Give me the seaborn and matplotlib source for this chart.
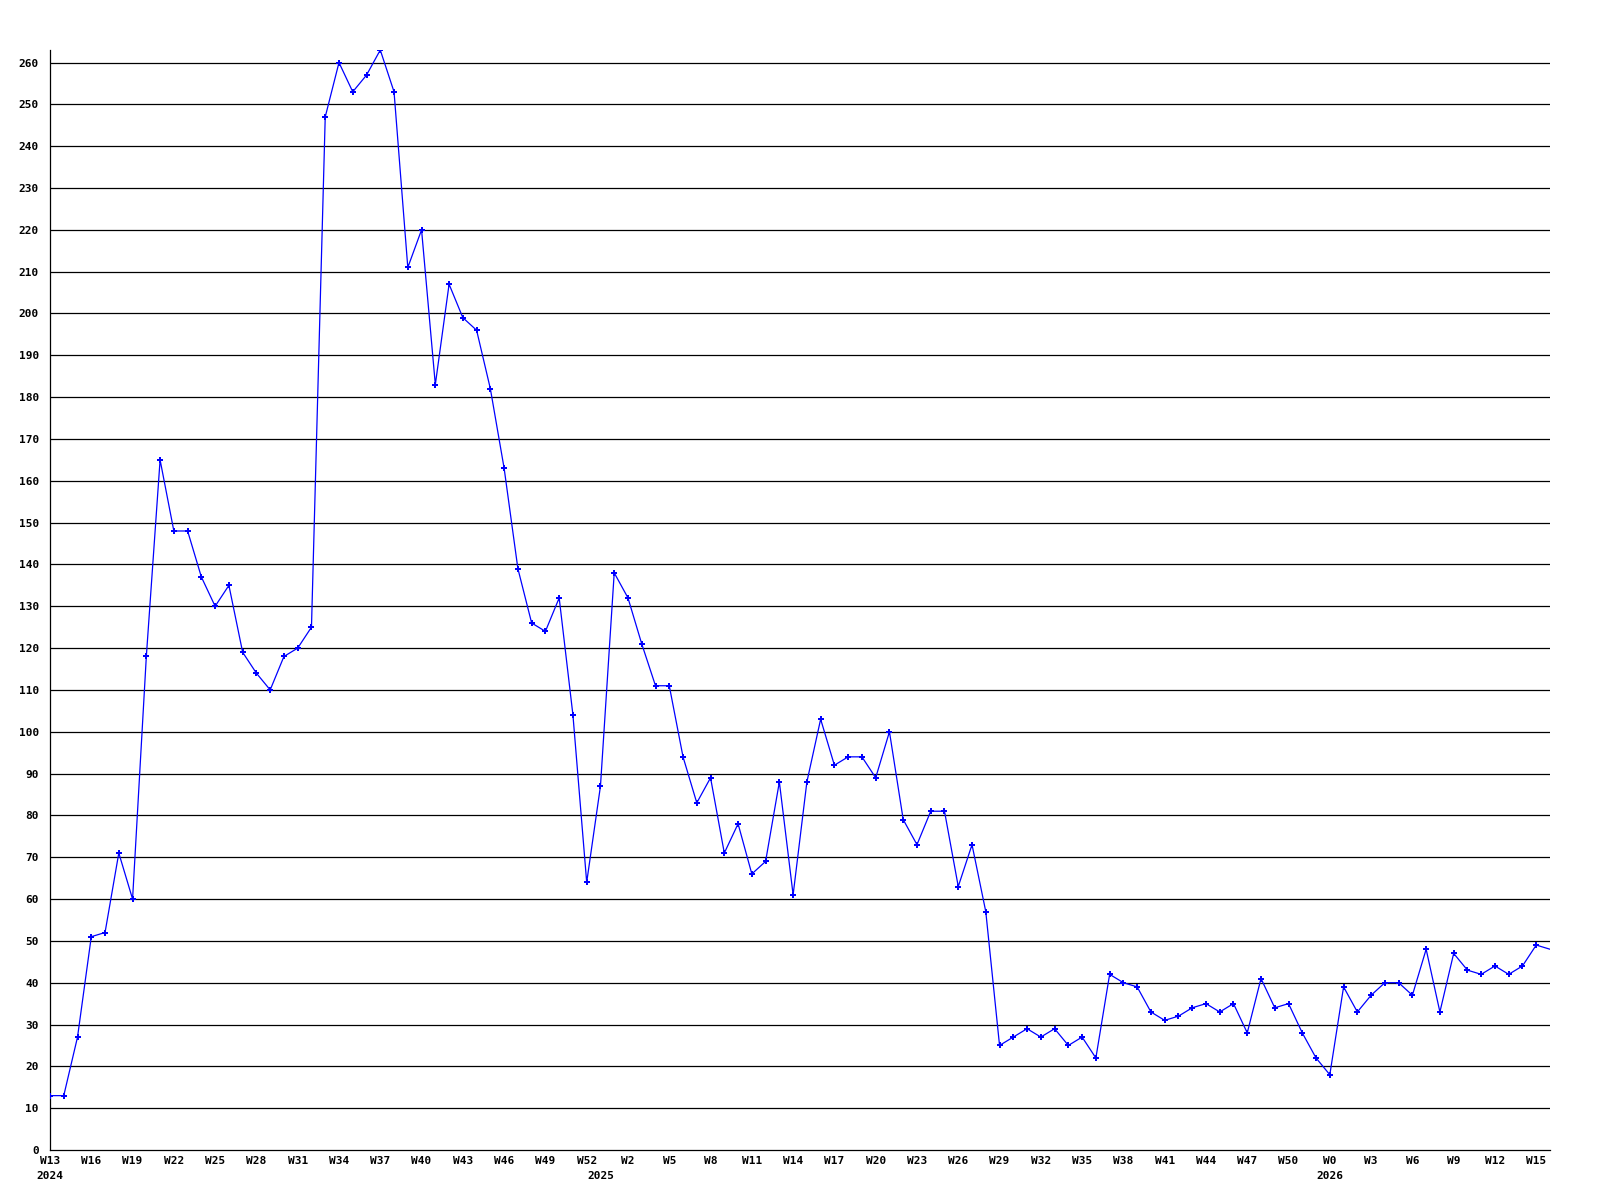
#!/usr/bin/env python3
"""Weekly count line chart, W13 2024 .. W16 2026."""

import matplotlib
matplotlib.use("Agg")
import matplotlib.pyplot as plt
import pandas as pd
import seaborn as sns

# weekly values, one per week starting at W13 2024
VALUES = [
    13, 13, 27, 51, 52, 71, 60, 118, 165, 148,
    148, 137, 130, 135, 119, 114, 110, 118, 120, 125,
    247, 260, 253, 257, 263, 253, 211, 220, 183, 207,
    199, 196, 182, 163, 139, 126, 124, 132, 104, 64,
    87, 138, 132, 121, 111, 111, 94, 83, 89, 71,
    78, 66, 69, 88, 61, 88, 103, 92, 94, 94,
    89, 100, 79, 73, 81, 81, 63, 73, 57, 25,
    27, 29, 27, 29, 25, 27, 22, 42, 40, 39,
    33, 31, 32, 34, 35, 33, 35, 28, 41, 34,
    35, 28, 22, 18, 39, 33, 37, 40, 40, 37,
    48, 33, 47, 43, 42, 44, 42, 44, 49, 48,
]

# x tick labels, one every third week
WEEK_LABELS = (
    [f"W{w}" for w in range(13, 53, 3)]      # 2024
    + [f"W{w}" for w in range(2, 51, 3)]     # 2025
    + [f"W{w}" for w in range(0, 16, 3)]     # 2026
)
YEAR_POS = [0, 40, 93]
YEAR_LABELS = ["2024", "2025", "2026"]

df = pd.DataFrame({"week": range(len(VALUES)), "value": VALUES})

sns.set_style("white")
plt.rcParams["font.family"] = ["DejaVu Sans Mono", "DejaVu Sans"]
plt.rcParams["font.weight"] = "bold"
plt.rcParams["xtick.labelsize"] = 8
plt.rcParams["ytick.labelsize"] = 8

fig = plt.figure(figsize=(16, 12), dpi=100)
ax = fig.add_axes([50 / 1600, 50 / 1200, 1500 / 1600, 1100 / 1200])

# horizontal grid every 10
for v in range(10, 261, 10):
    ax.axhline(v, color="black", linewidth=0.9, zorder=1)

sns.lineplot(data=df, x="week", y="value", ax=ax, color="#0000ff",
             linewidth=0.9, marker="P", markersize=5, markeredgewidth=0,
             markevery=list(range(len(VALUES) - 1)), zorder=3)

ax.set_xlim(0, len(VALUES) - 1)
ax.set_ylim(0, max(VALUES))
ax.set_xlabel("")
ax.set_ylabel("")

ax.set_yticks(range(0, 261, 10))
ax.set_yticklabels([str(v) for v in range(0, 261, 10)])
ax.set_xticks(range(0, 3 * len(WEEK_LABELS), 3))
ax.set_xticklabels(WEEK_LABELS)
ax.set_xticks(YEAR_POS, minor=True)
ax.set_xticklabels(YEAR_LABELS, minor=True)
ax.xaxis.remove_overlapping_locs = False

ax.tick_params(axis="y", length=0, pad=8, labelsize=8, labelcolor="black")
ax.tick_params(axis="x", which="major", length=0, pad=4, labelsize=8,
               labelcolor="black")
ax.tick_params(axis="x", which="minor", length=0, pad=15, labelsize=8,
               labelcolor="black")
for lab in ax.get_xticklabels(which="both") + ax.get_yticklabels():
    lab.set_fontweight("bold")

for side in ["top", "right"]:
    ax.spines[side].set_visible(False)
for side in ["left", "bottom"]:
    ax.spines[side].set_color("black")
    ax.spines[side].set_linewidth(0.9)

fig.savefig("out.png", dpi=100)
